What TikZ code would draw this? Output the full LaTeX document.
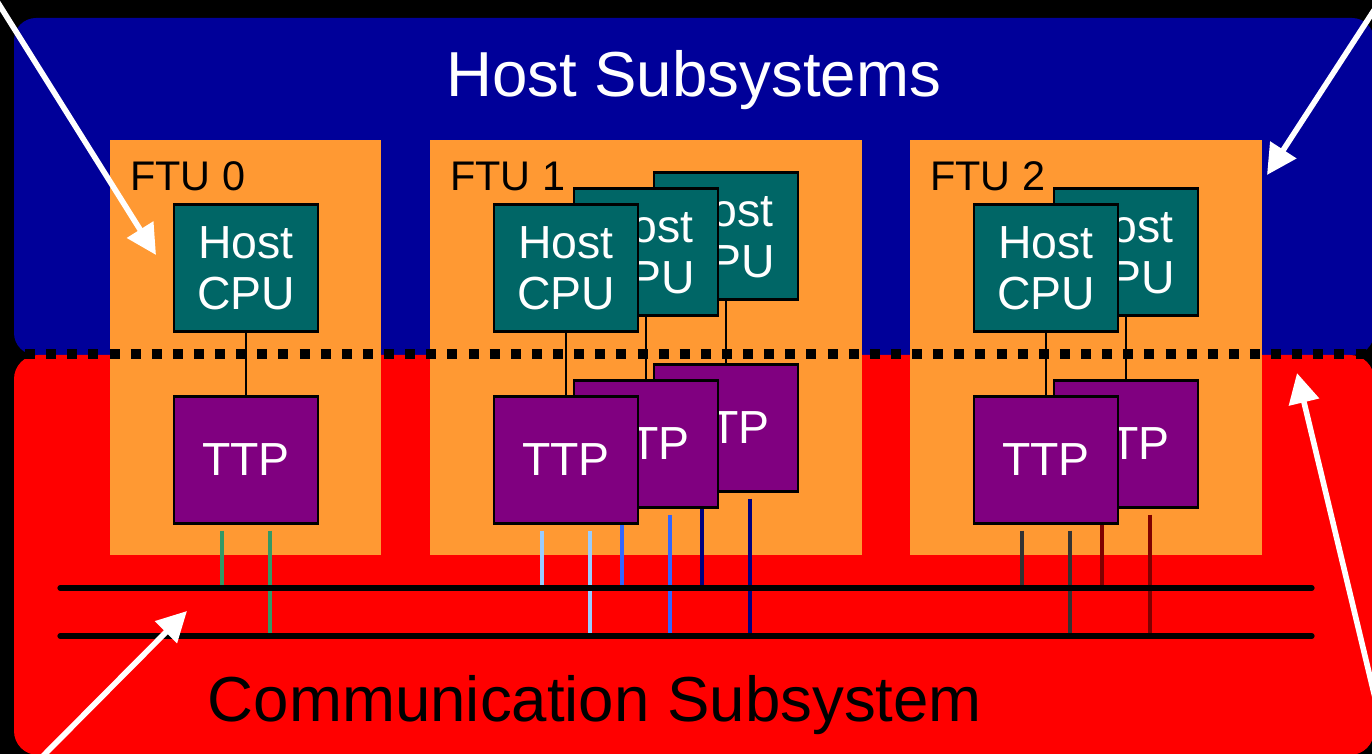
\documentclass[tikz,border=0pt]{standalone}
\usepackage{fontspec}
\setmainfont{Liberation Sans}
\usetikzlibrary{arrows.meta,calc}
\definecolor{hostblue}{HTML}{000099}
\definecolor{commred}{HTML}{FF0000}
\definecolor{ftuorange}{HTML}{FF9933}
\definecolor{cputeal}{HTML}{006666}
\definecolor{ttppurple}{HTML}{800080}
\definecolor{stubgreen}{HTML}{339966}
\definecolor{stubsky}{HTML}{99CCFF}
\definecolor{stubblue}{HTML}{3366FF}
\definecolor{stubnavy}{HTML}{000080}
\definecolor{stubgray}{HTML}{333333}
\definecolor{stubmaroon}{HTML}{800000}

% two bus taps under a TTP: short one to bus A, long one to bus B
\newcommand\ttpstubs[2]{%
  \draw[stub,#2] ($(#1.south)+(-12pt,-3pt)$) coordinate (#1s1) -- (#1s1 |- busA);
  \draw[stub,#2] ($(#1.south)+(12pt,-3pt)$) coordinate (#1s2) -- (#1s2 |- busB);}

\begin{document}
\begin{tikzpicture}[x=0.5pt, y=-0.5pt,
  cpu/.style={draw, line width=1.2pt, fill=cputeal, text=white, minimum width=72pt, minimum height=63.5pt, inner sep=0pt, align=center, font=\fontsize{23.2}{25.5}\selectfont},
  ttp/.style={cpu, fill=ttppurple},
  ftu/.style={fill=ftuorange, inner sep=0pt, anchor=north west, minimum height=207.5pt},
  ftulabel/.style={anchor=base west, inner sep=0pt, font=\fontsize{20.7}{24}\selectfont},
  title/.style={anchor=base, inner sep=0pt, font=\fontsize{31.8}{36}\selectfont},
  link/.style={line width=1pt},
  stub/.style={line width=2.4pt},
  bus/.style={line width=2.6pt, line cap=round},
  divider/.style={line width=5pt, dash pattern=on 5pt off 5.56pt},
  callout/.style={draw=white, line width=2.8pt, -{Triangle[length=15pt,width=15pt]}}]
  \useasboundingbox[fill=black] (0,0) rectangle (1372,754);
  \fill[hostblue, rounded corners=11pt] (14,18) rectangle (1374,355);
  \fill[commred, rounded corners=12pt] (14,355) rectangle (1374,755);
  \coordinate (busA) at (60,588); \coordinate (busAe) at (1312,588);
  \coordinate (busB) at (60,636); \coordinate (busBe) at (1312,636);

  \node[title, text=white] (hosttitle) at (693.5,97) {Host Subsystems};
  \node[title] (commtitle) at (595,721) {Communication Subsystem};

  \node[ftu, minimum width=135.5pt] (ftu0) at (110,140) {};
  \node[ftu, minimum width=216pt] (ftu1) at (430,140) {};
  \node[ftu, minimum width=176pt] (ftu2) at (910,140) {};
  \node[ftulabel] (lab0) at ([xshift=10pt,yshift=-25.5pt]ftu0.north west) {FTU 0};
  \node[ftulabel] (lab1) at ([xshift=10pt,yshift=-25.5pt]ftu1.north west) {FTU 1};
  \node[ftulabel] (lab2) at ([xshift=10pt,yshift=-25.5pt]ftu2.north west) {FTU 2};

  \draw[divider] (3.9,354) -- (1380,354);

  % FTU 0
  \node[cpu] (cpu0) at (246,268) {Host\\CPU};
  \node[ttp] (ttp0) at (246,460) {TTP};
  \draw[link] (cpu0) -- (ttp0);
  \ttpstubs{ttp0}{stubgreen}

  % FTU 1, back to front
  \node[cpu] (cpu1c) at (726,236) {Host\\CPU};
  \node[ttp] (ttp1c) at (726,428) {TTP};
  \draw[link] (cpu1c) -- (ttp1c);
  \ttpstubs{ttp1c}{stubnavy}
  \node[cpu] (cpu1b) at (646,252) {Host\\CPU};
  \node[ttp] (ttp1b) at (646,444) {TTP};
  \draw[link] (cpu1b) -- (ttp1b);
  \ttpstubs{ttp1b}{stubblue}
  \node[cpu] (cpu1a) at (566,268) {Host\\CPU};
  \node[ttp] (ttp1a) at (566,460) {TTP};
  \draw[link] (cpu1a) -- (ttp1a);
  \ttpstubs{ttp1a}{stubsky}

  % FTU 2, back to front
  \node[cpu] (cpu2b) at (1126,252) {Host\\CPU};
  \node[ttp] (ttp2b) at (1126,444) {TTP};
  \draw[link] (cpu2b) -- (ttp2b);
  \ttpstubs{ttp2b}{stubmaroon}
  \node[cpu] (cpu2a) at (1046,268) {Host\\CPU};
  \node[ttp] (ttp2a) at (1046,460) {TTP};
  \draw[link] (cpu2a) -- (ttp2a);
  \ttpstubs{ttp2a}{stubgray}

  \draw[bus] (busA) -- (busAe);
  \draw[bus] (busB) -- (busBe);

  % pointers
  \coordinate (ptrA) at (-5,-2);   \coordinate (tipA) at (156,255);
  \coordinate (ptrB) at (1382,-2); \coordinate (tipB) at (1267,175);
  \coordinate (ptrC) at (40,759);  \coordinate (tipC) at (187,611);
  \coordinate (ptrD) at (1390,760); \coordinate (tipD) at (1297,373);
  \draw[callout] (ptrA) -- (tipA);
  \draw[callout] (ptrB) -- (tipB);
  \draw[callout] (ptrC) -- (tipC);
  \draw[callout] (ptrD) -- (tipD);
\end{tikzpicture}
\end{document}
